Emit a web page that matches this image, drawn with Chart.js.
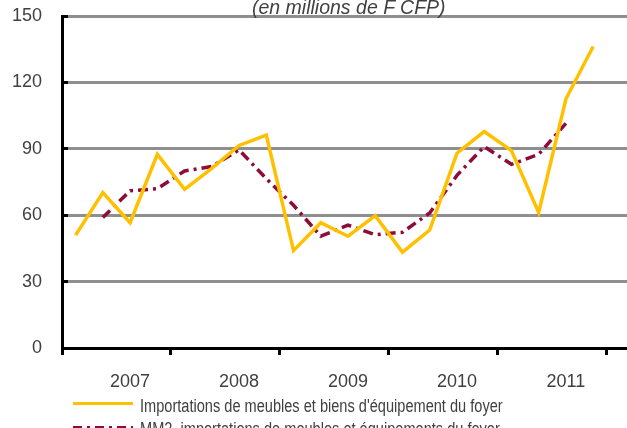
<!DOCTYPE html>
<html>
<head>
<meta charset="utf-8">
<script src="https://cdn.jsdelivr.net/npm/chart.js@4.4.0/dist/chart.umd.min.js"></script>
<style>
  html, body { margin: 0; padding: 0; background: #fff; overflow: hidden; width: 627px; height: 428px; }
  #wrap { position: absolute; left: 0; top: 0; width: 634px; height: 400px; }
  .txt { position: absolute; color: #404040; white-space: nowrap; }
  #title { left: 252px; top: -2px; font-family: "Liberation Sans", Arial, sans-serif; font-size: 19.5px; line-height: 19.5px; font-style: italic; }
  .leg { font-family: "Liberation Sans", Arial, sans-serif; font-size: 18px; line-height: 18px; transform: scaleX(0.81); transform-origin: 0 0; }
  .sw { position: absolute; left: 73px; width: 60px; height: 0; }
</style>
</head>
<body>
<div id="wrap"><canvas id="c" width="634" height="400"></canvas></div>
<div id="title" class="txt">(en millions de F CFP)</div>
<div class="sw" style="top:402px; border-top:3px solid #FFC000;"></div>
<div id="leg1" class="txt leg" style="left:140px; top:396.5px;">Importations de meubles et biens d'équipement du foyer</div>
<svg style="position:absolute; left:73px; top:422px;" width="60" height="10"><line x1="0" y1="5.5" x2="60" y2="5.5" stroke="#8E0C3A" stroke-width="3" stroke-dasharray="9,5,3,5"/></svg>
<div id="leg2" class="txt leg" style="left:140px; top:419.5px;">MM2, importations de meubles et équipements du foyer</div>
<script>
// Quarterly categories (T1 2007 .. T4 2011) plus one empty trailing slot
const categories = [
  'T1 2007','T2 2007','T3 2007','T4 2007',
  'T1 2008','T2 2008','T3 2008','T4 2008',
  'T1 2009','T2 2009','T3 2009','T4 2009',
  'T1 2010','T2 2010','T3 2010','T4 2010',
  'T1 2011','T2 2011','T3 2011','T4 2011',
  ''
];
const seriesNames = [
  "Importations de meubles et biens d'équipement du foyer",
  "MM2, importations de meubles et équipements du foyer"
];
const importations = [51, 70.2, 56.6, 87.5, 71.7, 81.2, 91.5, 96.2, 44, 56.6, 50.5, 59.8, 43.3, 53.3, 88, 97.8, 89.2, 61.2, 112.5, 136.2, null];
const mm2 = [null, 59, 71, 72, 80, 82, 89.5, 76.5, 64.5, 50.5, 55.5, 51.2, 52.3, 61, 78, 91, 83, 87.5, 101.5, null, null];
const yTicks = [0, 30, 60, 90, 120, 150];

const tickFont = { family: '"Liberation Sans", Arial, sans-serif', size: 18 };

new Chart(document.getElementById('c'), {
  type: 'line',
  data: {
    labels: categories,
    datasets: [
      { label: seriesNames[0], data: importations, borderColor: '#FFC000', borderWidth: 3.5, pointRadius: 0, tension: 0, fill: false },
      { label: seriesNames[1], data: mm2, borderColor: '#8E0C3A', borderWidth: 3.5, borderDash: [10, 5, 3, 5], pointRadius: 0, tension: 0, fill: false }
    ]
  },
  options: {
    responsive: false,
    animation: false,
    devicePixelRatio: 1,
    layout: { padding: { top: 16, right: 0, bottom: 0, left: 0 } },
    plugins: { legend: { display: false }, tooltip: { enabled: false }, title: { display: false } },
    scales: {
      x: {
        type: 'category',
        offset: true,
        grid: {
          offset: true,
          drawOnChartArea: false,
          drawTicks: true,
          tickLength: 7,
          tickWidth: 3,
          lineWidth: 3,
          color: ctx => (ctx.index % 4 === 0 ? '#000' : 'rgba(0,0,0,0)'),
          tickColor: ctx => (ctx.index % 4 === 0 ? '#000' : 'rgba(0,0,0,0)')
        },
        border: { display: true, color: '#000', width: 3 },
        ticks: {
          autoSkip: false,
          maxRotation: 0,
          padding: 16,
          color: '#404040',
          font: tickFont,
          callback: function (v, i) {
            const lab = categories[i] || '';
            return i % 4 === 2 ? lab.split(' ')[1] : '';
          }
        },
        afterFit: s => { s.height = 52; s.paddingLeft = 0; s.paddingRight = 0; }
      },
      y: {
        min: 0, max: 150,
        afterBuildTicks: s => { s.ticks = yTicks.map(v => ({ value: v })); },
        grid: {
          color: ctx => (ctx.tick && ctx.tick.value === 0 ? 'rgba(0,0,0,0)' : '#8F8F8F'),
          lineWidth: 3,
          drawTicks: true,
          tickLength: -6,
          tickWidth: 3,
          tickColor: '#000'
        },
        border: { display: true, color: '#000', width: 3 },
        ticks: {
          padding: 26,
          color: '#404040',
          font: tickFont
        },
        afterFit: s => { s.width = 62; s.paddingTop = 0; s.paddingBottom = 0; }
      }
    }
  }
});
</script>
</body>
</html>
